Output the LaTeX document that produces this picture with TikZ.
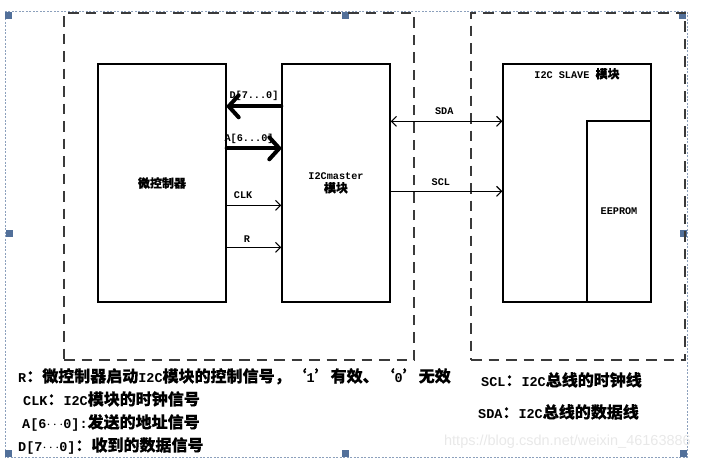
\documentclass[tikz,border=0pt]{standalone}
\usepackage{fontspec}
\setmainfont{Liberation Mono}
\newfontfamily\cjk[FakeBold=0.35]{Noto Sans CJK SC}
\newfontfamily\wmfont{Liberation Sans}
\usetikzlibrary{arrows.meta}
\definecolor{dashgray}{HTML}{3A3A3A}
\definecolor{framecol}{HTML}{8CA0BC}
\definecolor{handlecol}{HTML}{52709A}
\newcommand\zh[1]{{\cjk #1}}
\begin{document}
\begin{tikzpicture}[x=1pt,y=-1pt,
  dashbox/.style={draw=dashgray, line width=1.3pt, dash pattern=on 10.5pt off 7pt, rectangle, inner sep=0pt},
  blockbox/.style={draw=black, line width=1.4pt, rectangle, inner sep=0pt, align=center, font=\bfseries\fontsize{10.2}{15}\selectfont},
  thinarrow/.style={line width=1.1pt, -{Straight Barb[length=5pt,width=10pt]}},
  botharrow/.style={line width=1.1pt, {Straight Barb[length=5pt,width=10pt]}-{Straight Barb[length=5pt,width=10pt]}},
  thickarrow/.style={line width=4pt, line cap=round, -{Straight Barb[length=10pt,width=22pt,round]}},
  lbl/.style={font=\bfseries\fontsize{10.2}{12}\selectfont, inner sep=0pt, anchor=base},
  note/.style={font=\bfseries\fontsize{13.5}{15}\selectfont, inner sep=0pt, anchor=base west},
  framebox/.style={draw=framecol, line width=0.8pt, dash pattern=on 2pt off 1.5pt},
  handle/.style={fill=handlecol}
]
\useasboundingbox (0,0) rectangle (702,461);

% selection frame and handles
\draw[framebox] (5,11) rectangle (687,457);
\foreach \hx/\hy in {5/12, 342/12, 679/12, 6/230, 680/230, 5/450, 342/450, 680/450}
  \fill[handle] (\hx,\hy) rectangle ++(7,7);

% watermark
\node[font=\wmfont\fontsize{14.5}{16}\selectfont, text=black!9, inner sep=0pt, anchor=base east] (wm) at (691,445) {https://blog.csdn.net/weixin\_46163886};

% dashed groups
\node[dashbox, minimum width=350pt, minimum height=347pt] (leftgroup) at (239,186.5) {};
\node[dashbox, minimum width=214pt, minimum height=347pt] (rightgroup) at (578,186.5) {};

% blocks
\node[blockbox, minimum width=128pt, minimum height=238pt] (mcu) at (162,183) {\zh{\fontsize{12}{14}\selectfont 微控制器}};
\node[blockbox, minimum width=108pt, minimum height=238pt] (master) at (336,183) {I2Cmaster\\[-2pt]\zh{\fontsize{12}{14}\selectfont 模块}};
\node[blockbox, minimum width=148pt, minimum height=238pt] (slave) at (577,183) {};
\node[lbl] (slavetitle) at ([yshift=-15pt]slave.north) {I2C SLAVE \zh{\fontsize{12}{14}\selectfont 模块}};
\node[blockbox, minimum width=64pt, minimum height=181pt] (eeprom) at (619,211.5) {EEPROM};

% MCU <-> master signals
\draw[thickarrow] ([yshift=-43pt]master.north west) -- ([yshift=-43pt]mcu.north east)
  node[lbl, pos=0.5, yshift=8pt] (dlbl) {D[7...0]};
\draw[thickarrow] ([yshift=-85pt]mcu.north east) -- ([yshift=-85pt]master.north west)
  node[lbl, pos=0.41, yshift=7pt] (albl) {A[6...0]};
\draw[thinarrow] ([yshift=-142pt]mcu.north east) -- ([yshift=-142pt]master.north west)
  node[lbl, pos=0.3, yshift=7pt] (clklbl) {CLK};
\draw[thinarrow] ([yshift=-184pt]mcu.north east) -- ([yshift=-184pt]master.north west)
  node[lbl, pos=0.37, yshift=5pt] (rlbl) {R};

% I2C bus
\draw[botharrow] ([yshift=-58pt]master.north east) -- ([yshift=-58pt]slave.north west)
  node[lbl, pos=0.48, yshift=7pt] (sdalbl) {SDA};
\draw[thinarrow] ([yshift=-128pt]master.north east) -- ([yshift=-128pt]slave.north west)
  node[lbl, pos=0.45, yshift=6pt] (scllbl) {SCL};

% legends
\node[note] (n1) at (18,382) {R\zh{\fontsize{16}{17}\selectfont ：微控制器启动}I2C\zh{\fontsize{16}{17}\selectfont 模块的控制信号，‘}1\zh{\fontsize{16}{17}\selectfont ’有效、‘}0\zh{\fontsize{16}{17}\selectfont ’无效}};
\node[note] (n2) at (23,405) {CLK\zh{\fontsize{16}{17}\selectfont ：}I2C\zh{\fontsize{16}{17}\selectfont 模块的时钟信号}};
\node[note] (n3) at (22,428) {A[6$\cdots$0]:\zh{\fontsize{16}{17}\selectfont 发送的地址信号}};
\node[note] (n4) at (18,451) {D[7$\cdots$0]\zh{\fontsize{16}{17}\selectfont ：收到的数据信号}};
\node[note] (n5) at (481,386) {SCL\zh{\fontsize{16}{17}\selectfont ：}I2C\zh{\fontsize{16}{17}\selectfont 总线的时钟线}};
\node[note] (n6) at (478,418) {SDA\zh{\fontsize{16}{17}\selectfont ：}I2C\zh{\fontsize{16}{17}\selectfont 总线的数据线}};
\end{tikzpicture}
\end{document}
